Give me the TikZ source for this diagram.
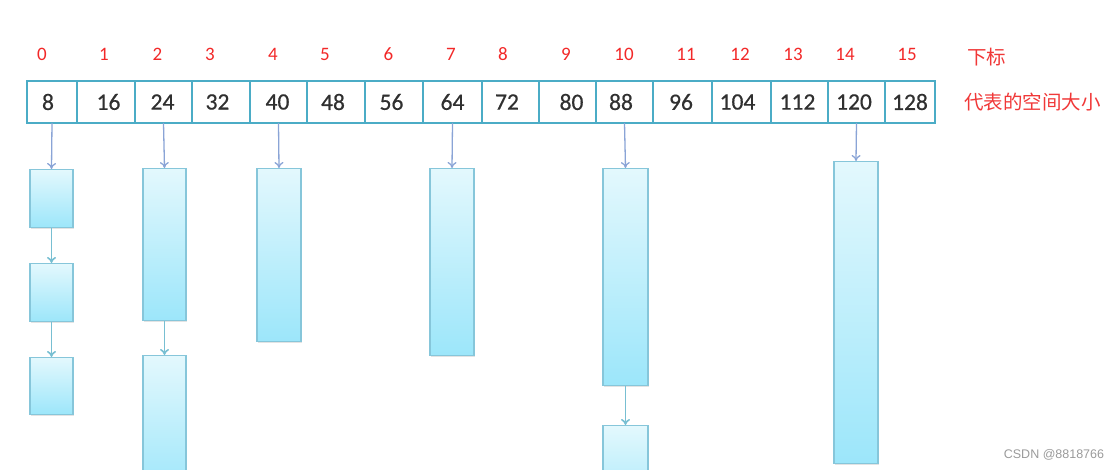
\documentclass[tikz,border=0pt]{standalone}
\usepackage{fontspec}
\setmainfont{Carlito}
\newfontfamily\cellfont{Carlito}[FakeBold=0.6]
\newfontfamily\cjkfont{Noto Sans CJK SC}
\newfontfamily\wmfont{Liberation Sans}
\usetikzlibrary{arrows.meta,shadows}
\definecolor{arrayline}{HTML}{4BACC6}
\definecolor{celltext}{HTML}{303030}
\definecolor{idxred}{HTML}{F22828}
\definecolor{cjkred}{HTML}{F03838}
\definecolor{blkline}{HTML}{86C6DA}
\definecolor{blktop}{HTML}{E3F8FD}
\definecolor{blkbot}{HTML}{9CE6FA}
\definecolor{ptrcol}{HTML}{8AA4D6}
\definecolor{lnkcol}{HTML}{78BFD2}
\definecolor{wmgray}{HTML}{9A9A9A}
\begin{document}
\begin{tikzpicture}[x=1pt,y=-1pt,
  cellbox/.style={draw=arrayline, line width=2.7pt, minimum height=42pt, inner sep=0pt, outer sep=0pt,
    font=\cellfont\fontsize{23.5}{28}\selectfont, text=celltext},
  idx/.style={text=idxred, font=\fontsize{19}{22}\selectfont, inner sep=0pt},
  cjklabel/.style={text=cjkred, font=\cjkfont\fontsize{19.5}{22}\selectfont, inner sep=0pt, anchor=west},
  blk/.style={draw=blkline, line width=1.4pt, top color=blktop, bottom color=blkbot, inner sep=0pt,
    anchor=north, drop shadow={shadow xshift=0.8pt, shadow yshift=-1.2pt, opacity=0.22}},
  ptr/.style={draw=ptrcol, line width=1.3pt, -{To[length=6pt,width=9pt]}},
  lnk/.style={draw=lnkcol, line width=1.6pt, -{To[length=6pt,width=9pt]}},
]
\useasboundingbox (0,0) rectangle (1120,470);
\clip (0,0) rectangle (1120,470);

% array cells
\foreach \i/\l/\r/\t/\k in {0/27/77/8/-8, 1/77/135/16/5, 2/135/192/24/-2, 3/192/250/32/-7,
  4/250/307/40/-2, 5/307/365/48/-6, 6/365/423/56/-5, 7/423/482/64/0, 8/482/539/72/-7,
  9/539/596/80/8, 10/596/653/88/-7, 11/653/712/96/-3, 12/712/771/104/-8, 13/771/828/112/-4,
  14/828/885/120/-5, 15/885/935/128/0}{
  \pgfmathsetmacro\cx{(\l+\r)/2}
  \pgfmathsetmacro\w{\r-\l}
  \node[cellbox, minimum width=\w pt] (c\i) at (\cx,102) {\kern\k pt\t};
}

% index labels
\foreach \i/\x in {0/42, 1/104, 2/157.5, 3/210, 4/273, 5/325, 6/388.5, 7/451, 8/503, 9/566,
  10/624, 11/686, 12/740, 13/793, 14/845, 15/907}{
  \node[idx] (i\i) at (\x,54) {\i};
}

\node[cjklabel] (lblidx) at (967,57) {下标};
\node[cjklabel] (lblsize) at (964,102) {代表的空间大小};

% blocks
\node[blk, minimum width=43pt, minimum height=58pt] (b0a) at (51.5,169) {};
\node[blk, minimum width=43pt, minimum height=58pt] (b0b) at (51.5,263) {};
\node[blk, minimum width=43pt, minimum height=57pt] (b0c) at (51.5,357) {};
\node[blk, minimum width=43pt, minimum height=152pt] (b2a) at (164.5,168) {};
\node[blk, minimum width=43pt, minimum height=140pt] (b2b) at (164.5,355) {};
\node[blk, minimum width=44pt, minimum height=173pt] (b4) at (279,168) {};
\node[blk, minimum width=44pt, minimum height=187pt] (b7) at (452,168) {};
\node[blk, minimum width=45pt, minimum height=217pt] (b10a) at (625.5,168) {};
\node[blk, minimum width=45pt, minimum height=100pt] (b10b) at (625.5,425) {};
\node[blk, minimum width=44pt, minimum height=302pt] (b14) at (856,161) {};

% pointers from array
\draw[ptr] (c0.south) -- (b0a.north);
\draw[ptr] (c2.south) -- (b2a.north);
\draw[ptr] (c4.south) -- (b4.north);
\draw[ptr] (c7.south) -- (b7.north);
\draw[ptr] (c10.south) -- (b10a.north);
\draw[ptr] (c14.south) -- (b14.north);

% links between blocks
\draw[lnk] (b0a.south) -- (b0b.north);
\draw[lnk] (b0b.south) -- (b0c.north);
\draw[lnk] (b2a.south) -- (b2b.north);
\draw[lnk] (b10a.south) -- (b10b.north);

% watermark
\node[text=wmgray, font=\wmfont\fontsize{12.5}{14}\selectfont, inner sep=0pt] (wm) at (1054,455) {CSDN @8818766};
\end{tikzpicture}
\end{document}
